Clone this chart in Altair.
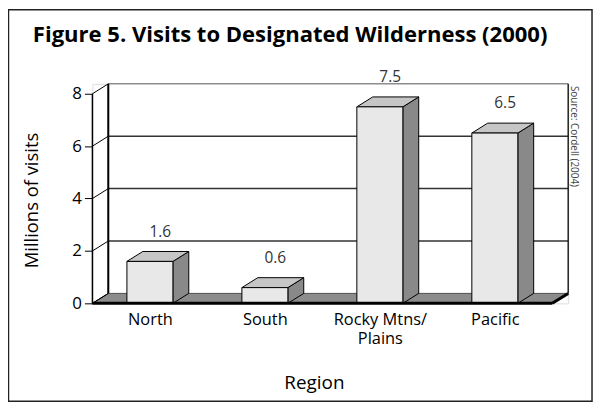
import altair as alt
import pandas as pd

# ---- data ----
regions = ["North", "South", "Rocky Mtns/ Plains", "Pacific"]
region_lines = [["North"], ["South"], ["Rocky Mtns/", "Plains"], ["Pacific"]]
visits = [1.6, 0.6, 7.5, 6.5]
value_labels = ["1.6", "0.6", "7.5", "6.5"]
y_ticks = [0, 2, 4, 6, 8]
grid_values = [2, 4, 6]
title_text = "Figure 5. Visits to Designated Wilderness (2000)"
y_title = "Millions of visits"
x_title = "Region"
source_text = "Source: Cordell (2004)"

# ---- 3D geometry (in data units) ----
DX = 0.138   # depth offset along category axis
DY = 0.379   # depth offset along value axis
HALF = 0.2   # half bar width
XMIN, XMAX = -0.5, len(regions) - 0.5 + DX
YMAX = 8 + DY
W, H = 479, 221
FONT = "Open Sans"

xs = alt.Scale(domain=[XMIN, XMAX], nice=False, zero=False)
ys = alt.Scale(domain=[0, YMAX], nice=False, zero=False)

labels_expr = str(region_lines).replace("'", '"') + "[datum.value]"

AX_X = alt.Axis(
    values=list(range(len(regions))), labelExpr=labels_expr, ticks=False, domain=False,
    grid=False, labelFontSize=16.5, labelPadding=8, labelColor="black", labelFlush=False,
    labelOverlap=False, labelLineHeight=19, labelBaseline="top",
    title=x_title, titleFontSize=19, titleFontWeight="normal", titleColor="black",
    titleX=223, titleY=86, titleBaseline="alphabetic", titleAlign="center")
AX_Y = alt.Axis(
    values=y_ticks, domain=False, grid=False, tickSize=8, tickColor="black", tickWidth=1,
    labelFontSize=17, labelPadding=3, labelColor="black", labelFlush=False,
    title=y_title, titleFontSize=18.5, titleFontWeight="normal", titleColor="black",
    titleAngle=270, titleX=-61, titleY=117, titleAlign="center", titleBaseline="middle")

bars = pd.DataFrame({
    "region": regions,
    "i": list(range(len(regions))),
    "v": visits,
    "lab": value_labels,
})
bars["xl"] = bars["i"] - HALF
bars["xr"] = bars["i"] + HALF
bars["zero"] = 0.0
bars["xlab"] = bars["i"] + DX * 0.65
bars["ylab"] = bars["v"] + DY

side_rows, top_rows = [], []
for i, (r, v) in enumerate(zip(regions, visits)):
    side_rows.append({"region": r, "sx": i + HALF, "st": v, "sb": 0.0})
    side_rows.append({"region": r, "sx": i + HALF + DX, "st": v + DY, "sb": DY})
    top_rows.append({"region": r, "ty": v, "tl": i - HALF, "tr": i + HALF})
    top_rows.append({"region": r, "ty": v + DY, "tl": i - HALF + DX, "tr": i + HALF + DX})
side = pd.DataFrame(side_rows)
top = pd.DataFrame(top_rows)

floor = pd.DataFrame({"fy": [0.0, DY], "fl": [XMIN, XMIN + DX], "fr": [XMAX - DX, XMAX]})
wall = pd.DataFrame({"x": [XMIN + DX], "x2": [XMAX], "y": [DY], "y2": [8 + DY]})
grid = pd.DataFrame({"g": [g + DY for g in grid_values], "x": XMIN + DX, "x2": XMAX})
diag = pd.DataFrame({"y": y_ticks, "y2": [t + DY for t in y_ticks], "x": XMIN, "x2": XMIN + DX})
one = pd.DataFrame({"a": [0]})

X = lambda f: alt.X(f, type="quantitative", scale=xs, axis=AX_X)
Y = lambda f: alt.Y(f, type="quantitative", scale=ys, axis=AX_Y)
XD = lambda d: alt.X(datum=d, scale=xs, axis=AX_X)
YD = lambda d: alt.Y(datum=d, scale=ys, axis=AX_Y)

frame = alt.Chart(one).mark_rect(fill=None, stroke="#222", strokeWidth=1.5).encode(
    x=alt.value(-84.5), x2=alt.value(503), y=alt.value(-74.5), y2=alt.value(319.5))

floor_l = alt.Chart(floor).mark_area(orient="horizontal", color="#8c8c8c", stroke="black", strokeWidth=1).encode(
    y=Y("fy"), x=X("fl"), x2="fr")

wall_l = alt.Chart(wall).mark_rect(fill="white", stroke="#555", strokeWidth=1).encode(
    x=X("x"), x2="x2", y=Y("y"), y2="y2")

grid_l = alt.Chart(grid).mark_rule(color="#333", strokeWidth=1.5).encode(
    x=X("x"), x2="x2", y=Y("g"))

wall_left = alt.Chart(wall).mark_rule(color="black", strokeWidth=2).encode(x=X("x"), y=Y("y"), y2="y2")
wall_right = alt.Chart(wall).mark_rule(color="black", strokeWidth=1).encode(x=X("x2"), y=Y("y"), y2="y2")

diag_l = alt.Chart(diag).mark_rule(color="black", strokeWidth=1).encode(
    x=X("x"), x2="x2", y=Y("y"), y2="y2")

front_axis = alt.Chart(one).mark_rule(color="black", strokeWidth=1.5).encode(
    x=XD(XMIN), y=YD(0), y2=alt.datum(8))

front = alt.Chart(bars).mark_rect(fill="#e8e8e8", stroke="black", strokeWidth=1).encode(
    x=X("xl"), x2="xr", y=Y("v"), y2="zero")

side_l = alt.Chart(side).mark_area(color="#898989", stroke="black", strokeWidth=1).encode(
    x=X("sx"), y=Y("st"), y2="sb", detail="region:N")

top_l = alt.Chart(top).mark_area(orient="horizontal", color="#c6c6c6", stroke="black", strokeWidth=1).encode(
    y=Y("ty"), x=X("tl"), x2="tr", detail="region:N")

floor_edge = alt.Chart(one).mark_rule(color="black", strokeWidth=3).encode(
    x=XD(XMIN), x2=alt.datum(XMAX - DX), y=YD(0))
floor_edge2 = alt.Chart(one).mark_rule(color="black", strokeWidth=3).encode(
    x=XD(XMAX - DX), x2=alt.datum(XMAX), y=YD(0), y2=alt.datum(DY))

val_l = alt.Chart(bars).mark_text(fontSize=15.5, color="#333", baseline="alphabetic", dy=-15, font=FONT).encode(
    x=X("xlab"), y=Y("ylab"), text="lab:N")

title_l = alt.Chart(one).mark_text(text=title_text, fontSize=22.2, fontWeight="bold", align="left",
                                   baseline="alphabetic", color="black", font=FONT).encode(
    x=alt.value(-60), y=alt.value(-42))

source_l = alt.Chart(one).mark_text(text=source_text, fontSize=10, angle=90, align="center",
                                    baseline="middle", color="#444", font=FONT).encode(
    x=alt.value(485), y=alt.value(53))

chart = alt.layer(
    frame, floor_l, wall_l, grid_l, wall_left, wall_right, diag_l, front_axis,
    side_l, top_l, front, floor_edge, floor_edge2, val_l, title_l, source_l
).properties(
    width=W, height=H,
    padding={"left": 85, "top": 75, "right": 26, "bottom": 99},
    autosize=alt.AutoSizeParams(type="none"),
).configure_view(stroke=None).configure(font=FONT, background="white")

chart.save("out.html", embed_options={"renderer": "svg", "actions": False})
